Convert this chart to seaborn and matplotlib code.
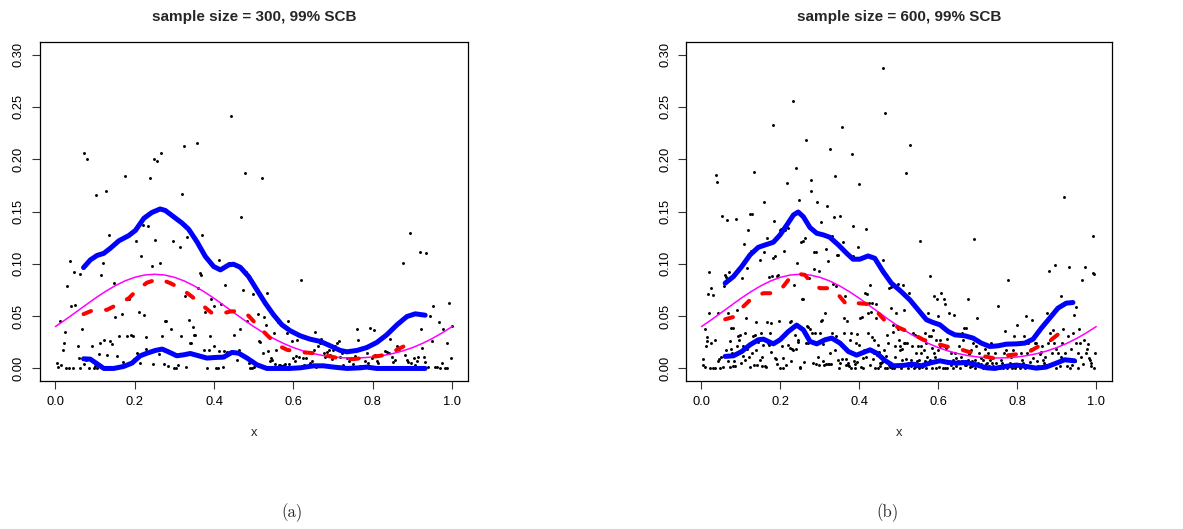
import numpy as np
import pandas as pd
import matplotlib
matplotlib.use("Agg")
import matplotlib.pyplot as plt
import seaborn as sns

# ---------------------------------------------------------------------------
# Observations, sample size 300
# ---------------------------------------------------------------------------
x300 = [0.003, 0.006, 0.011, 0.014, 0.018, 0.021, 0.024, 0.027, 0.030, 0.034,
        0.037, 0.040, 0.044, 0.047, 0.050, 0.056, 0.060, 0.061, 0.063, 0.067,
        0.071, 0.073, 0.076, 0.080, 0.086, 0.092, 0.097, 0.099, 0.102, 0.106,
        0.111, 0.113, 0.116, 0.119, 0.122, 0.127, 0.130, 0.134, 0.138, 0.143,
        0.147, 0.151, 0.155, 0.160, 0.167, 0.170, 0.176, 0.181, 0.186, 0.191,
        0.195, 0.199, 0.202, 0.206, 0.210, 0.214, 0.217, 0.221, 0.223, 0.228,
        0.229, 0.233, 0.239, 0.243, 0.247, 0.249, 0.252, 0.256, 0.260, 0.264,
        0.267, 0.270, 0.274, 0.277, 0.280, 0.285, 0.291, 0.296, 0.300, 0.304,
        0.308, 0.313, 0.317, 0.320, 0.323, 0.327, 0.330, 0.333, 0.337, 0.340,
        0.343, 0.347, 0.350, 0.353, 0.357, 0.360, 0.364, 0.367, 0.370, 0.375,
        0.378, 0.382, 0.386, 0.390, 0.393, 0.399, 0.401, 0.406, 0.409, 0.412,
        0.413, 0.417, 0.422, 0.424, 0.428, 0.432, 0.437, 0.443, 0.449, 0.453,
        0.458, 0.462, 0.466, 0.469, 0.473, 0.477, 0.480, 0.484, 0.487, 0.491,
        0.495, 0.498, 0.501, 0.505, 0.510, 0.513, 0.516, 0.520, 0.523, 0.527,
        0.530, 0.533, 0.537, 0.540, 0.543, 0.546, 0.550, 0.553, 0.557, 0.560,
        0.563, 0.567, 0.571, 0.575, 0.580, 0.584, 0.587, 0.590, 0.597, 0.600,
        0.604, 0.607, 0.610, 0.615, 0.620, 0.623, 0.627, 0.631, 0.635, 0.641,
        0.647, 0.651, 0.654, 0.657, 0.662, 0.666, 0.670, 0.676, 0.680, 0.684,
        0.689, 0.693, 0.697, 0.701, 0.705, 0.709, 0.714, 0.718, 0.722, 0.726,
        0.735, 0.739, 0.743, 0.747, 0.751, 0.756, 0.760, 0.764, 0.768, 0.777,
        0.781, 0.785, 0.789, 0.793, 0.798, 0.802, 0.806, 0.810, 0.814, 0.819,
        0.823, 0.827, 0.831, 0.835, 0.840, 0.844, 0.848, 0.852, 0.856, 0.861,
        0.865, 0.869, 0.877, 0.882, 0.886, 0.890, 0.893, 0.897, 0.903, 0.907,
        0.911, 0.915, 0.918, 0.921, 0.924, 0.928, 0.932, 0.935, 0.939, 0.945,
        0.949, 0.953, 0.957, 0.961, 0.966, 0.970, 0.974, 0.978, 0.982, 0.987,
        0.987, 0.993, 0.997, 1.000]
y300 = [0.005, 0.001, 0.045, 0.003, 0.018, 0.024, 0.035, 0.000, 0.079, 0.000,
        0.103, 0.060, 0.000, 0.092, 0.061, 0.021, 0.010, 0.000, 0.090, 0.038,
        0.004, 0.206, 0.008, 0.200, 0.000, 0.021, 0.000, 0.002, 0.166, 0.000,
        0.014, 0.024, 0.089, 0.101, 0.027, 0.170, 0.013, 0.128, 0.026, 0.023,
        0.082, 0.049, 0.012, 0.031, 0.052, 0.006, 0.184, 0.031, 0.066, 0.032,
        0.031, 0.009, 0.122, 0.015, 0.054, 0.005, 0.107, 0.137, 0.051, 0.019,
        0.030, 0.136, 0.182, 0.098, 0.004, 0.200, 0.123, 0.198, 0.014, 0.101,
        0.206, 0.031, 0.004, 0.045, 0.045, 0.002, 0.038, 0.122, 0.000, 0.000,
        0.003, 0.116, 0.031, 0.167, 0.213, 0.069, 0.001, 0.126, 0.046, 0.024,
        0.024, 0.040, 0.032, 0.032, 0.215, 0.077, 0.091, 0.089, 0.128, 0.018,
        0.054, 0.000, 0.018, 0.031, 0.066, 0.060, 0.021, 0.000, 0.000, 0.017,
        0.104, 0.062, 0.001, 0.017, 0.080, 0.016, 0.101, 0.241, 0.032, 0.016,
        0.008, 0.018, 0.038, 0.145, 0.075, 0.187, 0.092, 0.045, 0.005, 0.000,
        0.000, 0.071, 0.001, 0.003, 0.052, 0.026, 0.025, 0.182, 0.015, 0.049,
        0.042, 0.072, 0.017, 0.007, 0.010, 0.008, 0.034, 0.004, 0.018, 0.044,
        0.003, 0.003, 0.002, 0.003, 0.004, 0.034, 0.045, 0.004, 0.026, 0.010,
        0.007, 0.012, 0.027, 0.011, 0.085, 0.010, 0.003, 0.010, 0.001, 0.005,
        0.007, 0.018, 0.035, 0.001, 0.021, 0.024, 0.028, 0.015, 0.011, 0.016,
        0.018, 0.013, 0.009, 0.018, 0.021, 0.024, 0.026, 0.011, 0.015, 0.003,
        0.010, 0.007, 0.010, 0.001, 0.004, 0.012, 0.038, 0.027, 0.002, 0.002,
        0.007, 0.015, 0.005, 0.039, 0.010, 0.037, 0.013, 0.007, 0.005, 0.013,
        0.001, 0.000, 0.017, 0.016, 0.015, 0.028, 0.011, 0.006, 0.008, 0.021,
        0.019, 0.001, 0.101, 0.013, 0.008, 0.006, 0.129, 0.005, 0.010, 0.003,
        0.007, 0.011, 0.111, 0.038, 0.020, 0.011, 0.006, 0.110, 0.001, 0.050,
        0.026, 0.060, 0.001, 0.001, 0.044, 0.000, 0.005, 0.038, 0.000, 0.000,
        0.024, 0.063, 0.010, 0.041]

# ---------------------------------------------------------------------------
# Observations, sample size 600
# ---------------------------------------------------------------------------
x600 = [0.003, 0.005, 0.008, 0.009, 0.011, 0.013, 0.014, 0.016, 0.018, 0.020,
        0.022, 0.024, 0.025, 0.029, 0.030, 0.033, 0.035, 0.036, 0.039, 0.041,
        0.043, 0.045, 0.047, 0.050, 0.051, 0.054, 0.056, 0.057, 0.059, 0.061,
        0.062, 0.064, 0.066, 0.067, 0.069, 0.071, 0.073, 0.074, 0.076, 0.078,
        0.079, 0.081, 0.083, 0.085, 0.088, 0.089, 0.091, 0.093, 0.094, 0.096,
        0.098, 0.099, 0.102, 0.104, 0.106, 0.108, 0.110, 0.111, 0.113, 0.115,
        0.116, 0.119, 0.121, 0.122, 0.124, 0.126, 0.127, 0.129, 0.131, 0.132,
        0.134, 0.136, 0.137, 0.139, 0.141, 0.142, 0.144, 0.147, 0.148, 0.150,
        0.153, 0.154, 0.156, 0.158, 0.159, 0.161, 0.163, 0.165, 0.167, 0.169,
        0.170, 0.172, 0.174, 0.175, 0.177, 0.179, 0.180, 0.182, 0.184, 0.185,
        0.187, 0.189, 0.191, 0.192, 0.195, 0.196, 0.198, 0.200, 0.202, 0.203,
        0.206, 0.207, 0.209, 0.211, 0.212, 0.215, 0.217, 0.218, 0.220, 0.223,
        0.224, 0.226, 0.228, 0.229, 0.231, 0.233, 0.234, 0.236, 0.239, 0.240,
        0.242, 0.244, 0.245, 0.247, 0.249, 0.250, 0.253, 0.255, 0.256, 0.258,
        0.260, 0.262, 0.264, 0.266, 0.267, 0.269, 0.271, 0.272, 0.275, 0.277,
        0.278, 0.280, 0.282, 0.284, 0.286, 0.288, 0.289, 0.291, 0.293, 0.294,
        0.297, 0.298, 0.300, 0.302, 0.304, 0.305, 0.307, 0.309, 0.311, 0.313,
        0.315, 0.316, 0.318, 0.320, 0.321, 0.323, 0.325, 0.326, 0.328, 0.330,
        0.331, 0.333, 0.335, 0.337, 0.339, 0.341, 0.342, 0.344, 0.346, 0.347,
        0.349, 0.351, 0.352, 0.355, 0.357, 0.358, 0.360, 0.362, 0.363, 0.365,
        0.367, 0.368, 0.370, 0.372, 0.374, 0.376, 0.378, 0.379, 0.381, 0.383,
        0.384, 0.386, 0.388, 0.390, 0.391, 0.393, 0.395, 0.396, 0.398, 0.400,
        0.401, 0.403, 0.405, 0.406, 0.408, 0.410, 0.412, 0.414, 0.416, 0.417,
        0.419, 0.421, 0.422, 0.424, 0.426, 0.427, 0.429, 0.431, 0.433, 0.434,
        0.436, 0.438, 0.439, 0.441, 0.443, 0.444, 0.446, 0.448, 0.449, 0.451,
        0.453, 0.454, 0.457, 0.459, 0.460, 0.462, 0.464, 0.465, 0.467, 0.469,
        0.470, 0.472, 0.474, 0.476, 0.477, 0.479, 0.481, 0.482, 0.484, 0.486,
        0.487, 0.489, 0.491, 0.492, 0.494, 0.496, 0.497, 0.499, 0.501, 0.503,
        0.504, 0.506, 0.508, 0.509, 0.511, 0.513, 0.514, 0.516, 0.518, 0.519,
        0.521, 0.523, 0.524, 0.526, 0.528, 0.530, 0.531, 0.533, 0.535, 0.536,
        0.538, 0.540, 0.541, 0.543, 0.545, 0.546, 0.548, 0.550, 0.551, 0.553,
        0.555, 0.556, 0.558, 0.560, 0.562, 0.563, 0.565, 0.567, 0.568, 0.570,
        0.572, 0.573, 0.575, 0.577, 0.578, 0.580, 0.582, 0.583, 0.585, 0.587,
        0.589, 0.590, 0.592, 0.594, 0.595, 0.597, 0.599, 0.600, 0.602, 0.604,
        0.605, 0.608, 0.610, 0.612, 0.614, 0.616, 0.617, 0.619, 0.621, 0.623,
        0.625, 0.626, 0.629, 0.631, 0.633, 0.636, 0.637, 0.640, 0.642, 0.644,
        0.646, 0.648, 0.650, 0.653, 0.654, 0.657, 0.659, 0.661, 0.663, 0.664,
        0.667, 0.669, 0.671, 0.674, 0.675, 0.678, 0.680, 0.682, 0.685, 0.686,
        0.688, 0.690, 0.692, 0.694, 0.696, 0.699, 0.701, 0.703, 0.705, 0.707,
        0.709, 0.712, 0.713, 0.716, 0.718, 0.720, 0.722, 0.724, 0.727, 0.729,
        0.731, 0.733, 0.734, 0.737, 0.739, 0.741, 0.744, 0.747, 0.751, 0.754,
        0.755, 0.758, 0.761, 0.764, 0.766, 0.769, 0.772, 0.775, 0.777, 0.779,
        0.781, 0.783, 0.786, 0.789, 0.792, 0.794, 0.797, 0.799, 0.802, 0.804,
        0.806, 0.809, 0.811, 0.815, 0.817, 0.820, 0.823, 0.825, 0.828, 0.831,
        0.834, 0.836, 0.838, 0.840, 0.842, 0.845, 0.848, 0.851, 0.853, 0.857,
        0.859, 0.862, 0.865, 0.868, 0.870, 0.873, 0.875, 0.878, 0.880, 0.882,
        0.884, 0.887, 0.890, 0.892, 0.895, 0.897, 0.899, 0.901, 0.904, 0.907,
        0.910, 0.912, 0.914, 0.917, 0.919, 0.921, 0.923, 0.926, 0.928, 0.931,
        0.933, 0.935, 0.938, 0.941, 0.943, 0.945, 0.948, 0.950, 0.953, 0.954,
        0.957, 0.960, 0.962, 0.965, 0.966, 0.969, 0.971, 0.974, 0.976, 0.979,
        0.981, 0.983, 0.986, 0.988, 0.991, 0.992, 0.994, 0.995, 0.997]
y600 = [0.009, 0.003, 0.038, 0.001, 0.021, 0.026, 0.030, 0.071, 0.092, 0.053,
        0.000, 0.024, 0.077, 0.000, 0.070, 0.027, 0.000, 0.185, 0.178, 0.053,
        0.007, 0.009, 0.000, 0.011, 0.146, 0.001, 0.012, 0.079, 0.089, 0.087,
        0.018, 0.142, 0.007, 0.053, 0.092, 0.001, 0.026, 0.039, 0.019, 0.015,
        0.002, 0.039, 0.007, 0.002, 0.143, 0.021, 0.056, 0.031, 0.015, 0.027,
        0.032, 0.005, 0.086, 0.012, 0.021, 0.119, 0.008, 0.034, 0.048, 0.096,
        0.019, 0.132, 0.011, 0.001, 0.148, 0.112, 0.148, 0.015, 0.031, 0.188,
        0.003, 0.032, 0.044, 0.018, 0.003, 0.025, 0.027, 0.104, 0.008, 0.034,
        0.002, 0.011, 0.022, 0.159, 0.111, 0.002, 0.001, 0.125, 0.044, 0.024,
        0.087, 0.022, 0.034, 0.043, 0.016, 0.088, 0.233, 0.106, 0.141, 0.107,
        0.010, 0.009, 0.088, 0.004, 0.089, 0.045, 0.132, 0.000, 0.133, 0.021,
        0.000, 0.010, 0.112, 0.032, 0.132, 0.003, 0.177, 0.134, 0.022, 0.044,
        0.020, 0.045, 0.007, 0.019, 0.018, 0.256, 0.080, 0.032, 0.192, 0.019,
        0.101, 0.025, 0.027, 0.161, 0.001, 0.000, 0.121, 0.066, 0.122, 0.066,
        0.006, 0.125, 0.024, 0.218, 0.041, 0.040, 0.024, 0.086, 0.038, 0.180,
        0.170, 0.034, 0.005, 0.095, 0.111, 0.034, 0.004, 0.111, 0.159, 0.011,
        0.093, 0.003, 0.034, 0.045, 0.140, 0.046, 0.007, 0.023, 0.003, 0.053,
        0.114, 0.004, 0.155, 0.103, 0.004, 0.004, 0.015, 0.210, 0.004, 0.127,
        0.034, 0.081, 0.145, 0.018, 0.184, 0.031, 0.079, 0.108, 0.108, 0.008,
        0.000, 0.146, 0.005, 0.231, 0.009, 0.121, 0.048, 0.034, 0.069, 0.009,
        0.003, 0.045, 0.005, 0.003, 0.002, 0.027, 0.034, 0.000, 0.205, 0.136,
        0.107, 0.007, 0.004, 0.000, 0.024, 0.033, 0.006, 0.116, 0.176, 0.022,
        0.048, 0.001, 0.015, 0.049, 0.010, 0.000, 0.018, 0.072, 0.011, 0.133,
        0.071, 0.053, 0.034, 0.063, 0.003, 0.080, 0.054, 0.030, 0.063, 0.009,
        0.027, 0.015, 0.000, 0.062, 0.048, 0.013, 0.000, 0.022, 0.016, 0.005,
        0.002, 0.005, 0.006, 0.287, 0.104, 0.018, 0.000, 0.244, 0.012, 0.000,
        0.032, 0.024, 0.077, 0.003, 0.001, 0.058, 0.078, 0.000, 0.042, 0.035,
        0.000, 0.011, 0.021, 0.003, 0.053, 0.002, 0.038, 0.081, 0.027, 0.021,
        0.018, 0.000, 0.008, 0.019, 0.080, 0.024, 0.056, 0.024, 0.009, 0.187,
        0.024, 0.000, 0.005, 0.072, 0.214, 0.002, 0.008, 0.021, 0.034, 0.005,
        0.000, 0.032, 0.001, 0.015, 0.002, 0.007, 0.021, 0.008, 0.000, 0.122,
        0.021, 0.015, 0.001, 0.004, 0.002, 0.018, 0.034, 0.007, 0.024, 0.000,
        0.011, 0.004, 0.053, 0.031, 0.008, 0.088, 0.031, 0.000, 0.020, 0.037,
        0.015, 0.069, 0.011, 0.027, 0.000, 0.066, 0.018, 0.050, 0.001, 0.027,
        0.021, 0.072, 0.008, 0.000, 0.066, 0.000, 0.062, 0.020, 0.000, 0.028,
        0.005, 0.053, 0.005, 0.015, 0.003, 0.008, 0.000, 0.051, 0.015, 0.010,
        0.002, 0.005, 0.007, 0.021, 0.000, 0.011, 0.034, 0.007, 0.027, 0.039,
        0.003, 0.039, 0.003, 0.008, 0.066, 0.014, 0.001, 0.018, 0.007, 0.002,
        0.024, 0.124, 0.008, 0.000, 0.021, 0.048, 0.005, 0.015, 0.002, 0.010,
        0.004, 0.000, 0.008, 0.002, 0.019, 0.004, 0.000, 0.005, 0.015, 0.002,
        0.008, 0.024, 0.000, 0.005, 0.002, 0.000, 0.015, 0.005, 0.060, 0.002,
        0.000, 0.008, 0.005, 0.000, 0.015, 0.036, 0.018, 0.000, 0.085, 0.013,
        0.005, 0.011, 0.000, 0.018, 0.031, 0.000, 0.002, 0.042, 0.004, 0.024,
        0.000, 0.015, 0.008, 0.005, 0.031, 0.000, 0.050, 0.015, 0.024, 0.006,
        0.019, 0.002, 0.046, 0.010, 0.000, 0.024, 0.024, 0.007, 0.002, 0.014,
        0.016, 0.021, 0.008, 0.005, 0.011, 0.003, 0.053, 0.024, 0.093, 0.027,
        0.034, 0.015, 0.037, 0.024, 0.099, 0.000, 0.019, 0.005, 0.015, 0.002,
        0.069, 0.011, 0.024, 0.038, 0.164, 0.015, 0.008, 0.002, 0.031, 0.097,
        0.000, 0.019, 0.003, 0.034, 0.051, 0.007, 0.024, 0.059, 0.015, 0.000,
        0.038, 0.024, 0.011, 0.085, 0.004, 0.027, 0.097, 0.015, 0.019, 0.023,
        0.010, 0.008, 0.002, 0.005, 0.127, 0.091, 0.090, 0.000, 0.015]

# ---------------------------------------------------------------------------
# True variance function (shared by both panels)
# ---------------------------------------------------------------------------
true_x = [0.000, 0.025, 0.050, 0.075, 0.100, 0.125, 0.150, 0.175, 0.200, 0.225,
          0.250, 0.275, 0.300, 0.325, 0.350, 0.375, 0.400, 0.425, 0.450, 0.475,
          0.500, 0.525, 0.550, 0.575, 0.600, 0.625, 0.650, 0.675, 0.700, 0.725,
          0.750, 0.775, 0.800, 0.825, 0.850, 0.875, 0.900, 0.925, 0.950, 0.975,
          1.000]
true_y = [0.0400, 0.0465, 0.0533, 0.0602, 0.0670, 0.0733, 0.0789, 0.0836, 0.0871, 0.0893,
          0.0900, 0.0893, 0.0871, 0.0836, 0.0789, 0.0733, 0.0670, 0.0602, 0.0533, 0.0465,
          0.0400, 0.0340, 0.0286, 0.0239, 0.0199, 0.0167, 0.0142, 0.0123, 0.0110, 0.0102,
          0.0100, 0.0102, 0.0110, 0.0123, 0.0142, 0.0167, 0.0199, 0.0239, 0.0286, 0.0340,
          0.0400]

# ---------------------------------------------------------------------------
# Estimates and simultaneous confidence bands, n = 300
# ---------------------------------------------------------------------------
up300_x = [0.071, 0.088, 0.105, 0.122, 0.139, 0.160, 0.185, 0.202, 0.223, 0.243,
           0.264, 0.277, 0.298, 0.319, 0.336, 0.357, 0.378, 0.399, 0.416, 0.437,
           0.449, 0.466, 0.487, 0.508, 0.529, 0.550, 0.571, 0.592, 0.617, 0.642,
           0.668, 0.693, 0.718, 0.735, 0.760, 0.785, 0.810, 0.835, 0.861, 0.886,
           0.907, 0.932]
up300_y = [0.0964, 0.1037, 0.1080, 0.1100, 0.1150, 0.1220, 0.1270, 0.1320, 0.1435, 0.1490,
           0.1524, 0.1510, 0.1450, 0.1390, 0.1330, 0.1210, 0.1070, 0.0974, 0.0942, 0.0990,
           0.0996, 0.0967, 0.0878, 0.0751, 0.0624, 0.0512, 0.0417, 0.0360, 0.0312, 0.0280,
           0.0258, 0.0216, 0.0172, 0.0159, 0.0172, 0.0200, 0.0248, 0.0321, 0.0417, 0.0496,
           0.0522, 0.0509]
lo300_x = [0.071, 0.088, 0.105, 0.122, 0.147, 0.172, 0.193, 0.214, 0.231, 0.252,
           0.269, 0.285, 0.306, 0.323, 0.340, 0.361, 0.382, 0.403, 0.424, 0.445,
           0.462, 0.483, 0.508, 0.533, 0.558, 0.590, 0.617, 0.651, 0.676, 0.701,
           0.735, 0.768, 0.785, 0.810, 0.860, 0.900, 0.932]
lo300_y = [0.0092, 0.0089, 0.0045, 0.0000, 0.0000, 0.0019, 0.0051, 0.0121, 0.0146, 0.0172,
           0.0185, 0.0159, 0.0121, 0.0130, 0.0143, 0.0121, 0.0099, 0.0105, 0.0108, 0.0153,
           0.0146, 0.0099, 0.0035, 0.0000, 0.0000, 0.0000, 0.0006, 0.0025, 0.0025, 0.0013,
           0.0000, 0.0006, 0.0013, 0.0000, 0.0000, 0.0000, 0.0000]
est300_x = [0.071, 0.097, 0.130, 0.155, 0.185, 0.206, 0.231, 0.252, 0.264, 0.290,
            0.319, 0.344, 0.369, 0.395, 0.416, 0.441, 0.466, 0.487, 0.508, 0.533,
            0.558, 0.584, 0.617, 0.651, 0.684, 0.718, 0.751, 0.785, 0.819, 0.844,
            0.869, 0.903]
est300_y = [0.0519, 0.0560, 0.0560, 0.0608, 0.0671, 0.0750, 0.0820, 0.0846, 0.0853, 0.0815,
            0.0757, 0.0687, 0.0608, 0.0528, 0.0522, 0.0544, 0.0550, 0.0503, 0.0417, 0.0321,
            0.0226, 0.0178, 0.0156, 0.0146, 0.0121, 0.0095, 0.0089, 0.0105, 0.0121, 0.0146,
            0.0194, 0.0258]

# ---------------------------------------------------------------------------
# Estimates and simultaneous confidence bands, n = 600
# ---------------------------------------------------------------------------
up600_x = [0.060, 0.081, 0.102, 0.123, 0.144, 0.161, 0.182, 0.199, 0.216, 0.233,
           0.245, 0.258, 0.275, 0.292, 0.309, 0.325, 0.347, 0.368, 0.384, 0.401,
           0.422, 0.439, 0.460, 0.481, 0.503, 0.528, 0.549, 0.570, 0.587, 0.604,
           0.625, 0.642, 0.667, 0.688, 0.709, 0.730, 0.751, 0.772, 0.798, 0.819,
           0.840, 0.861, 0.882, 0.903, 0.924, 0.941]
up600_y = [0.0815, 0.0878, 0.0974, 0.1085, 0.1158, 0.1180, 0.1206, 0.1276, 0.1370, 0.1467,
           0.1495, 0.1450, 0.1346, 0.1292, 0.1276, 0.1254, 0.1180, 0.1100, 0.1044, 0.1044,
           0.1075, 0.1053, 0.0926, 0.0815, 0.0745, 0.0655, 0.0560, 0.0465, 0.0439, 0.0417,
           0.0353, 0.0321, 0.0312, 0.0290, 0.0242, 0.0210, 0.0216, 0.0232, 0.0235, 0.0242,
           0.0280, 0.0385, 0.0480, 0.0576, 0.0624, 0.0630]
lo600_x = [0.060, 0.081, 0.102, 0.123, 0.144, 0.157, 0.182, 0.199, 0.220, 0.241,
           0.258, 0.275, 0.292, 0.313, 0.330, 0.351, 0.372, 0.393, 0.410, 0.427,
           0.444, 0.465, 0.486, 0.511, 0.536, 0.557, 0.578, 0.604, 0.625, 0.646,
           0.671, 0.696, 0.722, 0.743, 0.768, 0.798, 0.823, 0.848, 0.873, 0.899,
           0.920, 0.945]
lo600_y = [0.0115, 0.0121, 0.0162, 0.0226, 0.0274, 0.0280, 0.0235, 0.0274, 0.0353, 0.0414,
           0.0369, 0.0258, 0.0235, 0.0274, 0.0290, 0.0242, 0.0162, 0.0127, 0.0153, 0.0178,
           0.0146, 0.0076, 0.0025, 0.0029, 0.0041, 0.0025, 0.0051, 0.0073, 0.0057, 0.0051,
           0.0057, 0.0035, 0.0006, 0.0000, 0.0019, 0.0032, 0.0019, 0.0003, 0.0013, 0.0051,
           0.0083, 0.0073]
est600_x = [0.060, 0.085, 0.106, 0.132, 0.157, 0.186, 0.207, 0.228, 0.245, 0.262,
            0.279, 0.300, 0.325, 0.347, 0.368, 0.393, 0.418, 0.444, 0.469, 0.503,
            0.532, 0.562, 0.591, 0.621, 0.654, 0.688, 0.718, 0.743, 0.772, 0.802,
            0.831, 0.861, 0.886, 0.907]
est600_y = [0.0470, 0.0496, 0.0592, 0.0687, 0.0719, 0.0719, 0.0783, 0.0884, 0.0904, 0.0894,
            0.0815, 0.0767, 0.0767, 0.0703, 0.0608, 0.0624, 0.0617, 0.0544, 0.0439, 0.0385,
            0.0337, 0.0274, 0.0242, 0.0210, 0.0185, 0.0146, 0.0115, 0.0095, 0.0124, 0.0137,
            0.0162, 0.0226, 0.0274, 0.0337]

titles = ["sample size = 300, 99% SCB", "sample size = 600, 99% SCB"]
captions = ["(a)", "(b)"]
x_ticks = [0.0, 0.2, 0.4, 0.6, 0.8, 1.0]
x_tick_labels = ["0.0", "0.2", "0.4", "0.6", "0.8", "1.0"]
y_ticks = [0.00, 0.05, 0.10, 0.15, 0.20, 0.25, 0.30]
y_tick_labels = ["0.00", "0.05", "0.10", "0.15", "0.20", "0.25", "0.30"]

# ---------------------------------------------------------------------------
# Styling
# ---------------------------------------------------------------------------
sns.set_theme(style="white")
plt.rcParams["font.family"] = ["Liberation Sans", "DejaVu Sans"]
plt.rcParams["axes.edgecolor"] = "black"
plt.rcParams["axes.linewidth"] = 0.9

fig = plt.figure(figsize=(11.83, 5.29), dpi=100)
W, H = 1183, 529
axes_px = [(39.5, 42, 468, 381), (685.7, 42, 1112, 381)]
caption_px = [(292, 513), (888, 513)]

panels = [
    dict(x=x300, y=y300, up=(up300_x, up300_y), lo=(lo300_x, lo300_y), est=(est300_x, est300_y)),
    dict(x=x600, y=y600, up=(up600_x, up600_y), lo=(lo600_x, lo600_y), est=(est600_x, est600_y)),
]

for i, p in enumerate(panels):
    l, t, r, b = axes_px[i]
    ax = fig.add_axes([l / W, 1 - b / H, (r - l) / W, (b - t) / H])

    pts = pd.DataFrame({"x": p["x"], "y": p["y"]})
    sns.scatterplot(data=pts, x="x", y="y", ax=ax, color="black", s=4.5,
                    marker="o", linewidth=0, zorder=2)

    sns.lineplot(x=true_x, y=true_y, ax=ax, color="#FF00FF", linewidth=1.1,
                 estimator=None, sort=False, zorder=3)
    sns.lineplot(x=p["est"][0], y=p["est"][1], ax=ax, color="#FF0000", linewidth=2.9,
                 estimator=None, sort=False, zorder=4,
                 linestyle=(0, (2.0, 3.8)), dash_capstyle="round")
    for band in (p["up"], p["lo"]):
        sns.lineplot(x=band[0], y=band[1], ax=ax, color="#0000FF", linewidth=3.6,
                     estimator=None, sort=False, zorder=5, solid_capstyle="round")

    ax.set_xlim(-0.04, 1.04)
    ax.set_ylim(-0.012, 0.312)
    ax.set_xticks(x_ticks)
    ax.set_xticklabels(x_tick_labels)
    ax.set_yticks(y_ticks)
    ax.set_yticklabels(y_tick_labels, rotation=90, va="center")
    ax.tick_params(axis="both", direction="out", length=5.5, width=0.8,
                   color="#333333", labelsize=9.3, labelcolor="black",
                   bottom=True, left=True)
    ax.tick_params(axis="x", pad=5)
    ax.tick_params(axis="y", pad=5)
    for s in ax.spines.values():
        s.set_visible(True)
        s.set_color("black")
        s.set_linewidth(0.9)
    ax.set_xlabel("x", fontsize=9.3, labelpad=14)
    ax.set_ylabel("")
    ax.set_title(titles[i], fontsize=11, fontweight="bold", pad=15)

    cx, cy = caption_px[i]
    fig.text(cx / W, 1 - cy / H, captions[i], ha="center", va="center",
             fontsize=12, family="cmr10")

fig.savefig("out.png", dpi=100)
